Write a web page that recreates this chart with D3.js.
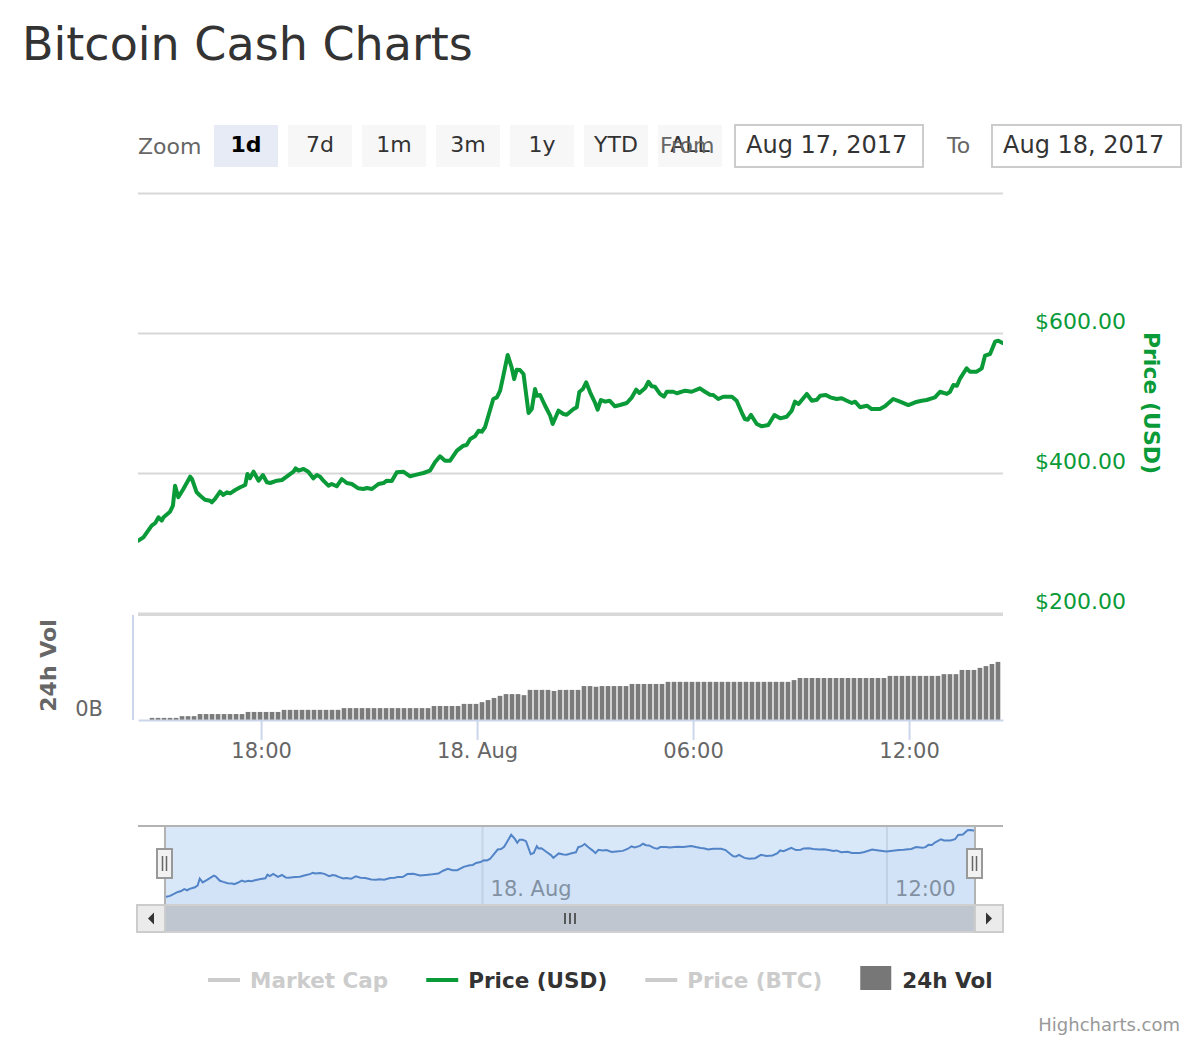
<!DOCTYPE html>
<html>
<head>
<meta charset="utf-8">
<title>Bitcoin Cash Charts</title>
<script src="https://cdn.jsdelivr.net/npm/d3@7"></script>
<style>
  html, body { margin: 0; padding: 0; background: #fff; }
  svg { display: block; font-family: "DejaVu Sans", sans-serif; }
</style>
</head>
<body>
<svg id="chart" width="1200" height="1040"></svg>
<script>
// --- data (hours counted from 2017-08-17 00:00 UTC) ---
const priceHours = [14.59,14.73,14.96,15.06,15.15,15.24,15.29,15.47,15.55,15.61,15.70,15.84,16.03,16.08,16.21,16.31,16.44,16.58,16.63,16.72,16.86,16.95,17.05,17.14,17.28,17.42,17.56,17.62,17.69,17.79,17.93,18.05,18.16,18.25,18.44,18.58,18.71,18.90,18.96,19.04,19.18,19.31,19.45,19.55,19.64,19.73,19.87,19.96,20.10,20.24,20.38,20.52,20.70,20.84,20.94,21.08,21.26,21.40,21.49,21.63,21.77,21.95,22.14,22.32,22.51,22.69,22.83,22.97,23.11,23.25,23.44,23.62,23.71,23.81,23.94,24.04,24.13,24.22,24.45,24.55,24.64,24.73,24.85,24.96,25.03,25.10,25.19,25.29,25.43,25.52,25.61,25.66,25.75,25.89,26.03,26.10,26.26,26.40,26.49,26.67,26.77,26.84,26.94,27.03,27.14,27.28,27.35,27.44,27.56,27.68,27.83,27.97,28.16,28.30,28.42,28.51,28.67,28.76,28.85,28.94,29.08,29.19,29.27,29.45,29.55,29.78,29.96,30.19,30.33,30.47,30.56,30.70,30.84,31.08,31.21,31.35,31.44,31.52,31.61,31.77,31.91,32.09,32.26,32.42,32.60,32.74,32.83,32.93,33.16,33.30,33.44,33.53,33.69,33.81,33.99,34.13,34.27,34.41,34.50,34.64,34.83,34.96,35.19,35.33,35.56,35.75,35.98,36.17,36.35,36.49,36.63,36.72,36.86,37.05,37.14,37.23,37.33,37.42,37.60,37.69,37.88,38.02,38.11,38.25,38.39,38.48,38.60];
const priceUsd = [303.3,308.1,324.7,328.6,336.7,331.9,336.7,344.7,353.3,381.9,365.3,377.1,394.7,391.4,372.4,367.6,361.9,360.4,358.1,362.9,373.3,368.6,372.4,371.0,375.7,379.6,382.9,398.6,392.4,401.9,389.0,397.1,386.7,385.7,389.0,390.0,394.7,401.9,406.7,403.3,405.7,401.9,392.4,397.1,394.7,389.0,381.9,384.3,381.0,391.4,385.7,384.3,378.1,377.1,378.6,377.1,384.3,385.7,389.0,388.6,401.0,401.9,395.3,397.6,400.0,403.3,415.3,423.9,417.6,417.6,431.9,439.0,440.0,448.6,452.4,460.4,459.0,465.3,505.7,508.1,517.6,539.0,568.6,551.0,534.3,547.6,547.1,541.4,485.7,491.4,520.0,510.4,511.4,496.1,481.9,470.0,489.0,484.3,483.3,491.0,493.9,515.7,520.0,529.6,515.3,500.0,490.4,504.3,501.9,503.3,495.3,497.1,500.0,508.1,519.0,514.3,521.4,530.4,523.9,523.3,512.9,509.0,516.1,516.1,513.9,517.6,516.1,521.0,516.1,511.9,511.4,505.7,509.0,509.0,503.3,486.7,477.1,476.1,482.9,470.0,466.7,468.6,482.9,478.1,480.4,489.0,501.9,498.6,512.9,503.3,504.7,510.4,511.4,508.1,505.7,506.7,503.3,500.0,501.9,493.9,496.1,491.4,491.4,495.3,505.7,501.9,497.1,501.0,503.3,504.3,506.7,508.1,516.1,512.9,516.1,525.7,524.7,535.3,549.6,544.7,544.7,549.6,567.6,570.0,587.6,589.0,585.7];

// 24h volume (billion USD), one bar every 10 minutes from volStartHour
const volStartHour = 14.97;
const volStepMinutes = 10;
const volumeB = [
  0.06,0.06,0.06,0.06,0.06, 0.11,0.11,0.11,
  0.17,0.17,0.17,0.17,0.17,0.17,0.17,0.17,
  0.23,0.23,0.23,0.23,0.23,0.23,
  0.29,0.29,0.29,0.29,0.29,0.29,0.29,0.29,0.29,0.29,
  0.34,0.34,0.34,0.34,0.34,0.34,0.34,0.34,0.34,0.34,0.34,0.34,0.34,0.34,0.34,
  0.40,0.40,0.40,0.40,0.40, 0.46,0.46,0.46,
  0.51,0.57,0.63,0.69,0.74,0.74,0.74,0.71,
  0.86,0.86,0.86,0.86,0.83,0.86,0.86,0.86,0.86,
  0.97,0.97,0.95,0.97,0.97,0.97,0.97,0.97,
  1.03,1.03,1.03,1.03,1.03,1.03,
  1.09,1.09,1.09,1.09,1.09,1.09,1.09,1.09,1.09,1.09,1.09,1.09,1.09,1.09,1.09,1.09,1.09,1.09,1.09,1.09,1.09,
  1.14,
  1.20,1.20,1.20,1.20,1.20,1.20,1.20,1.20,1.20,1.20,1.20,1.20,1.20,1.20,1.20,
  1.26,1.26,1.26,1.26,1.26,1.26,1.26,1.26,1.26,
  1.31,1.31,1.31, 1.43,1.43,1.43, 1.49,1.54,1.60,1.66
];

const xDomainHours = [14.58, 38.61];
const xTickHours = [18, 24, 30, 36];
const xTickLabels = ['18:00', '18. Aug', '06:00', '12:00'];
const navTickHours = [24, 36];
const navTickLabels = ['18. Aug', '12:00'];
const priceTicks = [200, 400, 600, 800];
const priceLabelTicks = [200, 400, 600];

const zoomButtons = ['1d', '7d', '1m', '3m', '1y', 'YTD', 'ALL'];
const selectedButton = '1d';
const fromDate = 'Aug 17, 2017';
const toDate = 'Aug 18, 2017';

const legendNames = ['Market Cap', 'Price (USD)', 'Price (BTC)', '24h Vol'];
const legendVisible = [false, true, false, true];

// --- helpers ---
const base = Date.UTC(2017, 7, 17);
const hourToDate = h => new Date(base + h * 3600e3);

const GREEN = '#0a9a38';
const svg = d3.select('#chart');

// Dimensiones
const plotLeft = 138, plotRight = 1003;
const priceTop = 193, priceBottom = 613;
const volTop = 615, volBottom = 720;
const navLeft = 165, navRight = 975, navTop = 826, navBottom = 905;

const x = d3.scaleUtc()
  .domain(xDomainHours.map(hourToDate))
  .range([plotLeft, plotRight]);

const yPrice = d3.scaleLinear()
  .domain([200, 800])
  .range([priceBottom, priceTop]);

const yVol = d3.scaleLinear()
  .domain([0, 3])
  .range([volBottom, volTop]);

const priceData = d3.zip(priceHours, priceUsd).map(([h, p]) => ({ t: hourToDate(h), p }));
const volData = volumeB.map((v, i) => ({ t: hourToDate(volStartHour + i * volStepMinutes / 60), v }));

svg.append('rect').attr('width', 1200).attr('height', 1040).attr('fill', '#fff');

// Titulo
svg.append('text')
  .attr('x', 22)
  .attr('y', 60)
  .attr('font-size', 46)
  .attr('fill', '#333')
  .text('Bitcoin Cash Charts');

// --- range selector ---
const rs = svg.append('g').attr('font-size', 22);

rs.append('text')
  .attr('x', 138).attr('y', 154)
  .attr('fill', '#666')
  .text('Zoom');

const btn = rs.selectAll('.btn')
  .data(zoomButtons)
  .enter()
  .append('g')
  .attr('class', 'btn')
  .attr('transform', (d, i) => `translate(${214 + i * 74},125)`);

btn.append('rect')
  .attr('width', 64).attr('height', 42)
  .attr('fill', d => d === selectedButton ? '#e6ebf5' : '#f7f7f7');

btn.append('text')
  .attr('x', 32).attr('y', 27)
  .attr('text-anchor', 'middle')
  .attr('fill', d => d === selectedButton ? '#000' : '#333')
  .attr('font-weight', d => d === selectedButton ? 'bold' : 'normal')
  .text(d => d);

// the "From" label sits over the last button, as in the original
rs.append('text')
  .attr('x', 660).attr('y', 153)
  .attr('fill', '#666')
  .text('From');

const inputs = rs.selectAll('.inp')
  .data([{ x: 735, w: 188, label: fromDate }, { x: 992, w: 189, label: toDate }])
  .enter()
  .append('g')
  .attr('class', 'inp');

inputs.append('rect')
  .attr('x', d => d.x).attr('y', 125)
  .attr('width', d => d.w).attr('height', 42)
  .attr('fill', '#fff')
  .attr('stroke', '#cccccc')
  .attr('stroke-width', 2);

inputs.append('text')
  .attr('x', d => d.x + 11).attr('y', 153)
  .attr('font-size', 24)
  .attr('fill', '#333')
  .text(d => d.label);

rs.append('text')
  .attr('x', 947).attr('y', 153)
  .attr('fill', '#666')
  .text('To');

// --- price pane ---
svg.append('defs').append('clipPath')
  .attr('id', 'plot-clip')
  .append('rect')
  .attr('x', plotLeft).attr('y', 0)
  .attr('width', plotRight - plotLeft).attr('height', 1040);

const grid = svg.append('g')
  .attr('transform', `translate(${plotLeft},0)`)
  .call(d3.axisLeft(yPrice).tickValues(priceTicks).tickSize(-(plotRight - plotLeft)).tickFormat(''));
grid.select('.domain').remove();
grid.selectAll('line').attr('stroke', '#d8d8d8').attr('stroke-width', 2);

const priceAxis = svg.append('g')
  .attr('transform', `translate(${plotRight + 32},-12)`)
  .call(d3.axisRight(yPrice).tickValues(priceLabelTicks).tickSize(0).tickPadding(0)
    .tickFormat(d => '$' + d3.format('.2f')(d)));
priceAxis.select('.domain').remove();
priceAxis.selectAll('text')
  .attr('font-size', 22)
  .attr('font-family', '"DejaVu Sans", sans-serif')
  .attr('fill', GREEN);

svg.append('text')
  .attr('transform', `translate(1144,${(yPrice(600) + yPrice(400)) / 2}) rotate(90)`)
  .attr('text-anchor', 'middle')
  .attr('font-size', 22)
  .attr('font-weight', 'bold')
  .attr('fill', GREEN)
  .text('Price (USD)');

const line = d3.line()
  .x(d => x(d.t))
  .y(d => yPrice(d.p));

svg.append('path')
  .datum(priceData)
  .attr('clip-path', 'url(#plot-clip)')
  .attr('fill', 'none')
  .attr('stroke', GREEN)
  .attr('stroke-width', 4)
  .attr('stroke-linejoin', 'round')
  .attr('stroke-linecap', 'round')
  .attr('d', line);

// --- volume pane ---
svg.append('line')
  .attr('x1', plotLeft).attr('x2', plotRight)
  .attr('y1', volTop).attr('y2', volTop)
  .attr('stroke', '#d8d8d8').attr('stroke-width', 2);

const barStep = x(hourToDate(volStartHour + volStepMinutes / 60)) - x(hourToDate(volStartHour));
const barW = barStep * 0.78;

svg.append('g')
  .attr('clip-path', 'url(#plot-clip)')
  .selectAll('rect')
  .data(volData)
  .enter()
  .append('rect')
  .attr('x', d => x(d.t) - barW / 2)
  .attr('y', d => yVol(d.v))
  .attr('width', barW)
  .attr('height', d => yVol(0) - yVol(d.v))
  .attr('fill', '#7b7b7b');

svg.append('line')
  .attr('x1', 133).attr('x2', 133)
  .attr('y1', volTop).attr('y2', volBottom)
  .attr('stroke', '#ccd6eb').attr('stroke-width', 2);

svg.append('text')
  .attr('x', 103).attr('y', volBottom - 4)
  .attr('text-anchor', 'end')
  .attr('font-size', 21)
  .attr('fill', '#666')
  .text(d3.format('.0f')(yVol.domain()[0]) + 'B');

svg.append('text')
  .attr('transform', `translate(56,${(volTop + volBottom) / 2 - 2}) rotate(-90)`)
  .attr('text-anchor', 'middle')
  .attr('font-size', 22)
  .attr('font-weight', 'bold')
  .attr('fill', '#666')
  .text('24h Vol');

// eje X
const xAxis = svg.append('g')
  .attr('transform', `translate(0,${volBottom})`)
  .call(d3.axisBottom(x)
    .tickValues(xTickHours.map(hourToDate))
    .tickFormat((d, i) => xTickLabels[i])
    .tickSize(20)
    .tickSizeOuter(0)
    .tickPadding(3));
xAxis.select('.domain').attr('stroke', '#ccd6eb').attr('stroke-width', 2);
xAxis.selectAll('line').attr('stroke', '#ccd6eb').attr('stroke-width', 2);
xAxis.selectAll('text')
  .attr('font-size', 21)
  .attr('font-family', '"DejaVu Sans", sans-serif')
  .attr('fill', '#666');

// --- navigator ---
const xNav = d3.scaleUtc()
  .domain(xDomainHours.map(hourToDate))
  .range([navLeft, navRight]);
const yNav = d3.scaleLinear()
  .domain(d3.extent(priceUsd))
  .range([navBottom - 8, navTop + 4]);

svg.append('g')
  .selectAll('line')
  .data(navTickHours)
  .enter()
  .append('line')
  .attr('x1', d => xNav(hourToDate(d))).attr('x2', d => xNav(hourToDate(d)))
  .attr('y1', navTop).attr('y2', navBottom)
  .attr('stroke', '#e6e6e6').attr('stroke-width', 2);

svg.append('path')
  .datum(priceData)
  .attr('fill', '#4a78bd')
  .attr('fill-opacity', 0.05)
  .attr('d', d3.area().x(d => xNav(d.t)).y0(navBottom).y1(d => yNav(d.p)));

svg.append('path')
  .datum(priceData)
  .attr('fill', 'none')
  .attr('stroke', '#4a78bd')
  .attr('stroke-width', 2)
  .attr('d', d3.line().x(d => xNav(d.t)).y(d => yNav(d.p)));

svg.append('g')
  .selectAll('text')
  .data(navTickHours)
  .enter()
  .append('text')
  .attr('x', d => xNav(hourToDate(d)) + 8)
  .attr('y', 896)
  .attr('font-size', 21)
  .attr('fill', '#8a8a8a')
  .text((d, i) => navTickLabels[i]);

// zona seleccionada
svg.append('rect')
  .attr('x', navLeft).attr('y', navTop)
  .attr('width', navRight - navLeft).attr('height', navBottom - navTop)
  .attr('fill', 'rgba(110,165,230,0.26)');

svg.append('path')
  .attr('d', `M${plotLeft},${navTop}H${plotRight}M${navLeft},${navTop}V${navBottom}M${navRight},${navTop}V${navBottom}`)
  .attr('stroke', '#b3b3b3')
  .attr('stroke-width', 2)
  .attr('fill', 'none');

// scrollbar
const sbTop = navBottom, sbH = 27;
svg.append('rect')
  .attr('x', 137).attr('y', sbTop).attr('width', plotRight - 137).attr('height', sbH)
  .attr('fill', '#f2f2f2').attr('stroke', '#d0d0d0').attr('stroke-width', 2);
svg.append('rect')
  .attr('x', navLeft).attr('y', sbTop + 1).attr('width', navRight - navLeft).attr('height', sbH - 2)
  .attr('fill', '#bfc6cf');

const sbButtons = svg.selectAll('.sbb')
  .data([{ x: 137, dir: -1 }, { x: navRight, dir: 1 }])
  .enter()
  .append('g')
  .attr('class', 'sbb');
sbButtons.append('rect')
  .attr('x', d => d.x).attr('y', sbTop).attr('width', 28).attr('height', sbH)
  .attr('fill', '#ebebeb').attr('stroke', '#cccccc').attr('stroke-width', 2);
sbButtons.append('path')
  .attr('d', d => {
    const cx = d.x + 14, cy = sbTop + sbH / 2;
    return `M${cx + d.dir * 3},${cy}L${cx - d.dir * 3},${cy - 6}L${cx - d.dir * 3},${cy + 6}Z`;
  })
  .attr('fill', '#333');

svg.append('g')
  .selectAll('line')
  .data([-5, 0, 5])
  .enter()
  .append('line')
  .attr('x1', d => (navLeft + navRight) / 2 + d).attr('x2', d => (navLeft + navRight) / 2 + d)
  .attr('y1', sbTop + 8).attr('y2', sbTop + 19)
  .attr('stroke', '#333').attr('stroke-width', 1.5);

// handles
const handles = svg.selectAll('.handle')
  .data([navLeft, navRight])
  .enter()
  .append('g')
  .attr('class', 'handle');
handles.append('rect')
  .attr('x', d => d - 8).attr('y', 849)
  .attr('width', 15).attr('height', 29)
  .attr('fill', '#f2f2f2').attr('stroke', '#999').attr('stroke-width', 2);
handles.append('path')
  .attr('d', d => `M${d - 2.5},856V871M${d + 1.5},856V871`)
  .attr('stroke', '#666').attr('stroke-width', 1.5);

// --- legend ---
const legend = svg.append('g').attr('font-size', 21.5).attr('font-weight', 'bold');
let lx = 208;
legendNames.forEach((name, i) => {
  const on = legendVisible[i];
  const color = i === 1 ? GREEN : i === 3 ? '#777' : '#ccc';
  if (i === 3) {
    legend.append('rect')
      .attr('x', lx).attr('y', 966).attr('width', 31).attr('height', 24)
      .attr('fill', color);
  } else {
    legend.append('line')
      .attr('x1', lx).attr('x2', lx + 32)
      .attr('y1', 980).attr('y2', 980)
      .attr('stroke', color).attr('stroke-width', 4);
  }
  const t = legend.append('text')
    .attr('x', lx + 42).attr('y', 988)
    .attr('fill', on ? '#333' : '#cccccc')
    .text(name);
  lx += 42 + t.node().getComputedTextLength() + 38;
});

// creditos
svg.append('text')
  .attr('x', 1180).attr('y', 1031)
  .attr('text-anchor', 'end')
  .attr('font-size', 18)
  .attr('fill', '#999')
  .text('Highcharts.com');
</script>
</body>
</html>
